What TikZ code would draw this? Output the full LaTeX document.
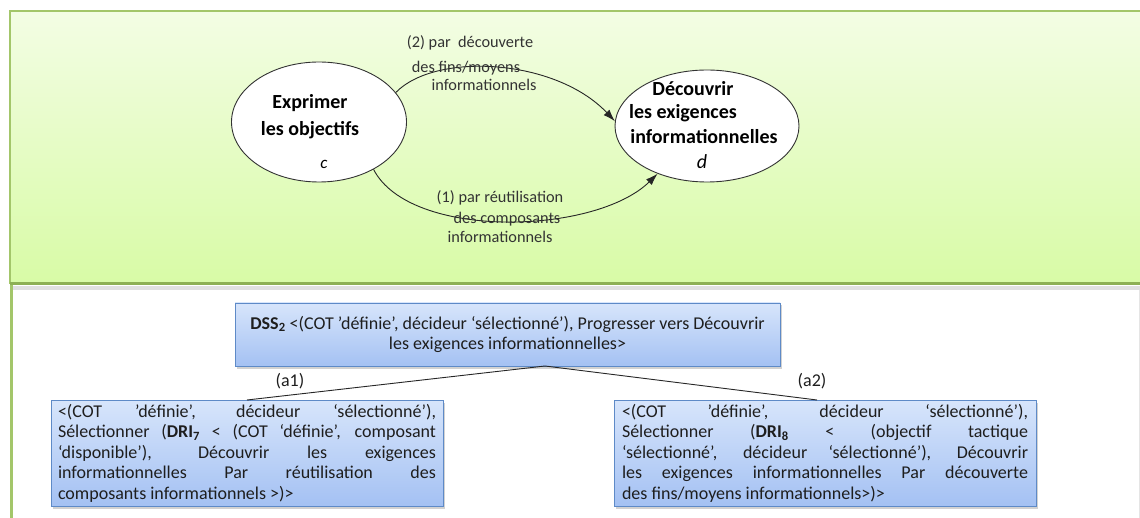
\documentclass[tikz,border=0pt]{standalone}
\usepackage{fontspec}
\setmainfont{Carlito}
\usetikzlibrary{arrows.meta,shapes.geometric,shadows}
\definecolor{gtop}{HTML}{F3FDE4}
\definecolor{gbot}{HTML}{D8FBA6}
\definecolor{gline}{HTML}{A3C66A}
\definecolor{gdark}{HTML}{8DB054}
\definecolor{labc}{HTML}{333333}
\definecolor{btop}{HTML}{D7E5FB}
\definecolor{bbot}{HTML}{A4C1F3}
\definecolor{bborder}{HTML}{5E8AC7}
\definecolor{btext}{HTML}{1E1E1E}
\hyphenpenalty=10000
\exhyphenpenalty=10000
\begin{document}
\begin{tikzpicture}[x=1pt,y=-1pt,
  lab/.style={font=\fontsize{16.3}{18}\selectfont, text=labc, inner sep=0pt},
  etxt/.style={font=\bfseries\fontsize{20}{24}\selectfont, inner sep=0pt, text=black},
  eit/.style={font=\itshape\fontsize{20}{24}\selectfont, inner sep=0pt, text=black},
  ell/.style={ellipse, draw=black!80, line width=0.9pt, fill=white, inner sep=0pt},
  arr/.style={-{Latex[length=12pt,width=8pt]}, line width=0.9pt, draw=black!85},
  bluebox/.style={draw=bborder, line width=0.7pt, top color=btop, bottom color=bbot,
    text=btext, drop shadow={shadow xshift=2pt, shadow yshift=-2.5pt, fill=black!35}},
  boxfont/.style={font=\fontsize{18}{20.5}\selectfont},
  tline/.style={line width=0.9pt, draw=black!85},
  alab/.style={font=\fontsize{18}{20}\selectfont, text=btext, inner sep=0pt}]
\useasboundingbox (0,0) rectangle (1140,518);
\fill[white] (0,0) rectangle (1140,518);
% green panel
\shade[top color=gtop, bottom color=gbot] (10,11) rectangle (1140,284);
\draw[gline, line width=1.5pt] (1140,11) -- (10,11) -- (10,284);
\fill[black!12] (10,286) rectangle (1140,290);
\draw[gdark, line width=3pt] (10,284) -- (1140,284);
\draw[gline, line width=3pt] (11,285) -- (11,518);
\draw[black!10, line width=1pt] (1139,290) -- (1139,518);
% ellipses
\node[ell, minimum width=175pt, minimum height=120pt] (c) at (319,122) {};
\node[etxt] (c1) at (310,103) {Exprimer};
\node[etxt] (c2) at (310,130) {les objectifs};
\node[eit, font=\itshape\fontsize{17}{20}\selectfont] (c3) at (324,164) {c};
\node[ell, minimum width=184pt, minimum height=112pt] (d) at (707,126) {};
\node[etxt] (d1) at (693,89) {Découvrir};
\node[etxt] (d2) at (683,113) {les exigences};
\node[etxt] (d3) at (704,137) {informationnelles};
\node[eit] (d4) at (702,162) {d};
% arrows
\draw[arr] (c.21) .. controls (435,52) and (555,58) .. (d.177);
\draw[arr] (c.-41) .. controls (410,240) and (595,235) .. (d.-136);
% labels
\node[lab] (l1) at (470,43) {(2) par\ \ découverte};
\node[lab] (l2) at (466,68) {des fins/moyens};
\node[lab] (l3) at (484,85) {informationnels};
\node[lab] (l4) at (500,198) {(1) par réutilisation};
\node[lab] (l5) at (507,219) {des composants};
\node[lab] (l6) at (500,237) {informationnels};
% boxes
\node[bluebox, boxfont, minimum width=545pt, minimum height=63pt, align=center, inner sep=0pt]
  (dss) at (507.5,334.5) {\textbf{DSS\textsubscript{2}} <(COT ’définie’, décideur ‘sélectionné’), Progresser vers Découvrir\\les exigences informationnelles>};
\node[bluebox, boxfont, minimum width=392pt, minimum height=106pt, text width=378pt, align=justify, inner xsep=7pt, inner ysep=0pt]
  (b1) at (247,453) {<(COT ’définie’, décideur ‘sélectionné’),\linebreak Sélectionner (\textbf{DRI\textsubscript{7}} < (COT ‘définie’, composant\linebreak ‘disponible’), Découvrir les exigences\linebreak informationnelles Par réutilisation des\linebreak composants informationnels >)>};
\node[bluebox, boxfont, minimum width=422pt, minimum height=106pt, text width=406pt, align=justify, inner xsep=8pt, inner ysep=0pt]
  (b2) at (825,453) {<(COT ’définie’, décideur ‘sélectionné’),\linebreak Sélectionner (\textbf{DRI\textsubscript{8}} < (objectif tactique\linebreak ‘sélectionné’, décideur ‘sélectionné’), Découvrir\linebreak les exigences informationnelles Par découverte\linebreak des fins/moyens informationnels>)>};
% tree connectors
\coordinate (apex) at (545,366);
\coordinate (e1) at (247,400);
\coordinate (e2) at (817,400);
\draw[tline] (apex) -- (e1);
\draw[tline] (apex) -- (e2);
\node[alab] (a1) at (290,381) {(a1)};
\node[alab] (a2) at (812,381) {(a2)};
\end{tikzpicture}
\end{document}
